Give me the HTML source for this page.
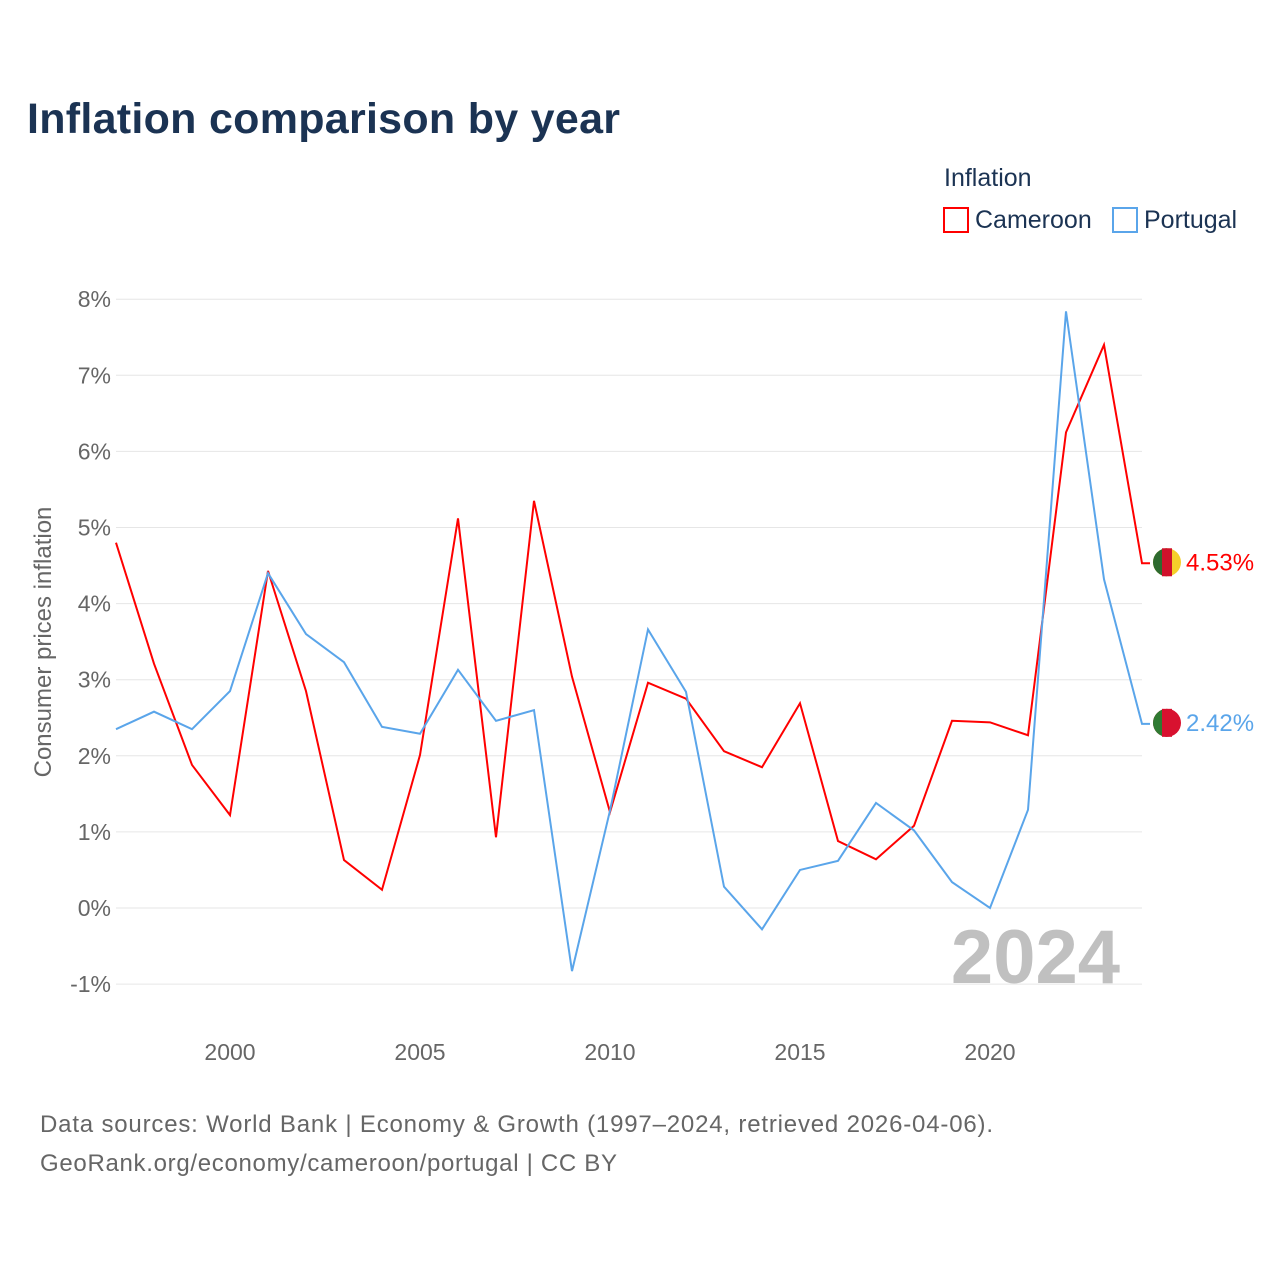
<!DOCTYPE html>
<html><head><meta charset="utf-8"><style>
body{margin:0;background:#fff;font-family:"Liberation Sans",sans-serif;}
svg text{font-family:"Liberation Sans",sans-serif;}
</style></head><body>
<svg id="chart" width="1280" height="1280" viewBox="0 0 1280 1280">
<text x="27" y="133" font-size="43" font-weight="bold" fill="#1b3353" textLength="593">Inflation comparison by year</text>
<text x="944" y="186" font-size="25" fill="#1b3353">Inflation</text>
<g><rect x="944" y="208" width="24" height="24" fill="none" stroke="#f00" stroke-width="2"/><text x="975" y="228" font-size="25" fill="#1b3353">Cameroon</text></g>
<g><rect x="1113" y="208" width="24" height="24" fill="none" stroke="#5aa5ea" stroke-width="2"/><text x="1144" y="228" font-size="25" fill="#1b3353">Portugal</text></g>
<text transform="translate(51,642) rotate(-90)" text-anchor="middle" font-size="24" fill="#666">Consumer prices inflation</text>
<g id="grid"></g><g id="yt"></g><g id="xt"></g>
<text x="1120" y="983" text-anchor="end" font-size="76" font-weight="bold" fill="#c0c0c0">2024</text>
<g id="series"></g>
<text x="40" y="1132" font-size="24" fill="#666" textLength="953">Data sources: World Bank | Economy &amp; Growth (1997–2024, retrieved 2026-04-06).</text>
<text x="40" y="1171" font-size="24" fill="#666" textLength="577">GeoRank.org/economy/cameroon/portugal | CC BY</text>
</svg>
<script>
const years=[1997,1998,1999,2000,2001,2002,2003,2004,2005,2006,2007,2008,2009,2010,2011,2012,2013,2014,2015,2016,2017,2018,2019,2020,2021,2022,2023,2024];
const cameroon=[4.80,3.21,1.88,1.22,4.43,2.85,0.63,0.24,2.01,5.12,0.93,5.35,3.04,1.26,2.96,2.75,2.06,1.85,2.69,0.88,0.64,1.08,2.46,2.44,2.27,6.25,7.40,4.53];
const portugal=[2.35,2.58,2.35,2.85,4.40,3.60,3.23,2.38,2.29,3.13,2.46,2.60,-0.83,1.28,3.66,2.84,0.28,-0.28,0.50,0.62,1.38,1.02,0.34,0.00,1.29,7.84,4.32,2.42];
const yTicks=[-1,0,1,2,3,4,5,6,7,8];
const xTicks=[2000,2005,2010,2015,2020];
const NS="http://www.w3.org/2000/svg";
const X=y=>116+(y-1997)*38;
const Y=v=>908-v*76.1;
function mk(t,a,p){const e=document.createElementNS(NS,t);for(const k in a)e.setAttribute(k,a[k]);p.appendChild(e);return e;}
const grid=document.getElementById('grid'),yt=document.getElementById('yt'),xt=document.getElementById('xt'),ser=document.getElementById('series');
yTicks.forEach(v=>{
 const l=mk('line',{x1:116,x2:1142,y1:Y(v),y2:Y(v),stroke:'#e6e6e6','stroke-width':1},grid);
 
 
 const t=mk('text',{x:111,y:Y(v)+8,'text-anchor':'end','font-size':23,fill:'#666'},yt);
 t.textContent=v+'%';
 
 
});
xTicks.forEach(v=>{
 const t=mk('text',{x:X(v),y:1060,'text-anchor':'middle','font-size':23,fill:'#666'},xt);
 t.textContent=v;
 
 
});
function draw(vals,color,name,flag){
 let d=vals.map((v,i)=>(i?'L':'M')+X(years[i])+' '+Y(v)).join(' ');
 const last=vals[vals.length-1];
 d+=' L'+(X(years[years.length-1])+8)+' '+Y(last);
 const p=mk('path',{d:d,fill:'none',stroke:color,'stroke-width':2},ser);
 
 
 const g=mk('g',{},ser);
 
 
 const cy=Y(last)-1;
 mk('circle',{cx:1167,cy:cy,r:14,fill:flag[1]},g);
 mk('path',{d:`M1167 ${cy-14} A14 14 0 0 0 1167 ${cy+14} Z`,fill:flag[0]},g);
 mk('rect',{x:1162,y:cy-14,width:10,height:28,fill:flag[2]},g);
 const t=mk('text',{x:1186,y:Y(last)+7,'font-size':24,fill:color},ser);
 t.textContent=last.toFixed(2)+'%';
 
 
}
draw(cameroon,'#f00','cameroon',['#2d6a2f','#f5cf2a','#d0112b']);
draw(portugal,'#5aa5ea','portugal',['#2f7a32','#d8112f','#d8112f']);
</script>
</body></html>
